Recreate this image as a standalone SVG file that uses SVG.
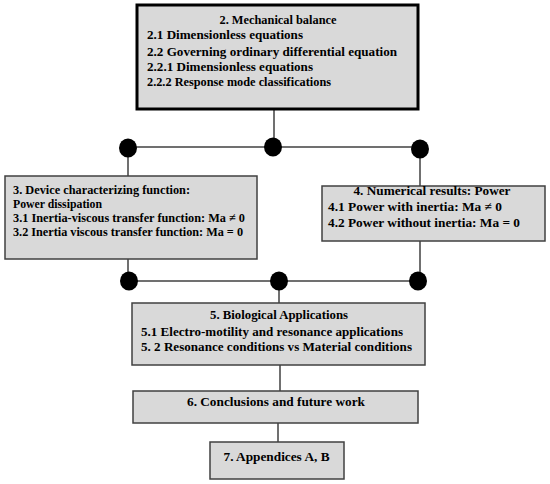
<svg xmlns="http://www.w3.org/2000/svg" width="550" height="484" viewBox="0 0 550 484">
<style>
.box{fill:#d9d9d9;stroke:#404040;stroke-width:1.5}
.thick{fill:#d9d9d9;stroke:#000;stroke-width:3}
.t{font-family:"Liberation Serif","Times New Roman",serif;font-weight:bold;font-size:13.5px;fill:#000}
.c{text-anchor:middle}
.ln{stroke:#404040;stroke-width:1.5;fill:none}
.dot{fill:#000}
</style>
<rect width="550" height="484" fill="#fff"/>
<g id="connectors">
<line class="ln" x1="274" y1="109" x2="274" y2="147"/>
<line class="ln" x1="128" y1="147" x2="420" y2="147"/>
<line class="ln" x1="128" y1="147" x2="128" y2="176"/>
<line class="ln" x1="420" y1="147" x2="420" y2="186"/>
<line class="ln" x1="128" y1="259" x2="128" y2="281"/>
<line class="ln" x1="420" y1="241" x2="420" y2="281"/>
<line class="ln" x1="128" y1="281" x2="420" y2="281"/>
<line class="ln" x1="279" y1="281" x2="279" y2="303"/>
<line class="ln" x1="280" y1="365" x2="280" y2="391"/>
<line class="ln" x1="278" y1="423" x2="278" y2="442"/>
<ellipse class="dot" cx="128" cy="148" rx="9" ry="9.5"/>
<ellipse class="dot" cx="273" cy="147" rx="9" ry="9.5"/>
<ellipse class="dot" cx="420" cy="149" rx="9" ry="9.5"/>
<ellipse class="dot" cx="129" cy="281" rx="9" ry="9.5"/>
<ellipse class="dot" cx="279" cy="281" rx="9" ry="9.5"/>
<ellipse class="dot" cx="418" cy="281" rx="9" ry="9.5"/>
</g>
<g id="node2">
<rect class="thick" x="137" y="5" width="281" height="104"/>
<text class="t c" x="278" y="24" textLength="117" lengthAdjust="spacingAndGlyphs">2. Mechanical balance</text>
<text class="t" x="147" y="39" textLength="156" lengthAdjust="spacingAndGlyphs">2.1 Dimensionless equations</text>
<text class="t" x="147" y="56" textLength="250" lengthAdjust="spacingAndGlyphs">2.2 Governing ordinary differential equation</text>
<text class="t" x="147" y="71" textLength="166" lengthAdjust="spacingAndGlyphs">2.2.1 Dimensionless equations</text>
<text class="t" x="147" y="86" textLength="184" lengthAdjust="spacingAndGlyphs">2.2.2 Response mode classifications</text>
</g>
<g id="node3">
<rect class="box" x="5" y="176" width="252" height="83"/>
<text class="t" x="13" y="194" textLength="177" lengthAdjust="spacingAndGlyphs">3. Device characterizing function:</text>
<text class="t" x="13" y="208" textLength="89" lengthAdjust="spacingAndGlyphs">Power dissipation</text>
<text class="t" x="13" y="222" textLength="232" lengthAdjust="spacingAndGlyphs">3.1 Inertia-viscous transfer function: Ma ≠ 0</text>
<text class="t" x="13" y="236" textLength="230" lengthAdjust="spacingAndGlyphs">3.2 Inertia viscous transfer function: Ma = 0</text>
</g>
<g id="node4">
<rect class="box" x="322" y="186" width="223" height="55"/>
<text class="t c" x="432" y="195" textLength="157" lengthAdjust="spacingAndGlyphs">4. Numerical results: Power</text>
<text class="t" x="328" y="211" textLength="174" lengthAdjust="spacingAndGlyphs">4.1 Power with inertia: Ma ≠ 0</text>
<text class="t" x="328" y="227" textLength="192" lengthAdjust="spacingAndGlyphs">4.2 Power without inertia: Ma = 0</text>
</g>
<g id="node5">
<rect class="box" x="132" y="303" width="293" height="62"/>
<text class="t c" x="279" y="319" textLength="138" lengthAdjust="spacingAndGlyphs">5. Biological Applications</text>
<text class="t" x="141" y="336" textLength="262" lengthAdjust="spacingAndGlyphs">5.1 Electro-motility and resonance applications</text>
<text class="t" x="141" y="351" textLength="271" lengthAdjust="spacingAndGlyphs">5. 2 Resonance conditions vs Material conditions</text>
</g>
<g id="node6">
<rect class="box" x="133" y="391" width="285" height="32"/>
<text class="t c" x="276" y="406" textLength="178" lengthAdjust="spacingAndGlyphs">6. Conclusions and future work</text>
</g>
<g id="node7">
<rect class="box" x="210" y="442" width="134" height="37"/>
<text class="t c" x="276.5" y="461" textLength="106" lengthAdjust="spacingAndGlyphs">7. Appendices A, B</text>
</g>
</svg>
